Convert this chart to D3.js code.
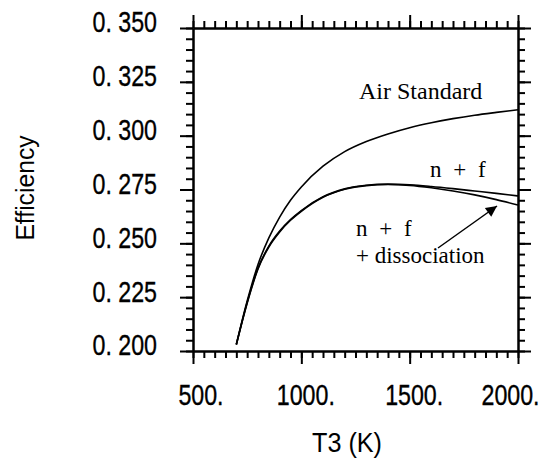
<!DOCTYPE html>
<html><head><meta charset="utf-8">
<script src="https://cdn.jsdelivr.net/npm/d3@7/dist/d3.min.js"></script>
<style>body{margin:0;background:#fff}svg{display:block}</style>
</head><body>
<script>
const temps = [700,750,800,850,900,950,1000,1100,1200,1300,1400,1500,1600,1700,1800,1900,2000];
const airStandard = [0.203,0.2232,0.2402,0.2525,0.2622,0.2700,0.2762,0.2858,0.2926,0.2973,0.3008,0.3037,0.3060,0.3079,0.3095,0.3108,0.3120];
const nf = [0.203,0.2225,0.2385,0.2487,0.2557,0.2610,0.2652,0.2716,0.2753,0.2770,0.2775,0.2772,0.2764,0.2754,0.2743,0.2732,0.2720];
const nfDissoc = [0.203,0.2222,0.2381,0.2483,0.2553,0.2607,0.2649,0.2714,0.2751,0.2768,0.2773,0.2769,0.2758,0.2743,0.2725,0.2703,0.2678];
const xMajor = [500,1000,1500,2000];
const xTickLabels = ["500.","1000.","1500.","2000."];
const yMajor = [0.200,0.225,0.250,0.275,0.300,0.325,0.350];
const yTickLabels = ["0. 200","0. 225","0. 250","0. 275","0. 300","0. 325","0. 350"];
const xTitle = "T3 (K)", yTitle = "Efficiency";

const W=551,H=466;
const svg=d3.select("body").append("svg").attr("width",W).attr("height",H);
const x=d3.scaleLinear().domain([500,2000]).range([193,518]);
const y=d3.scaleLinear().domain([0.2,0.35]).range([351,28]);
const xMinor=d3.range(500,2001,50), yMinor=d3.range(0,31).map(i=>0.2+i*0.005);

function ax(gen,tr,vals,size){
  const g=svg.append("g").attr("transform",tr)
   .call(gen.tickValues(vals).tickSize(size).tickSizeOuter(0).tickFormat(""));
  g.selectAll("path,line").attr("stroke","#000").attr("stroke-width",2);
  return g;
}
ax(d3.axisBottom(x),`translate(0,${y(0.2)})`,xMinor,7);
ax(d3.axisBottom(x),`translate(0,${y(0.2)})`,xMajor,13);
ax(d3.axisTop(x),`translate(0,${y(0.35)})`,xMinor,7);
ax(d3.axisTop(x),`translate(0,${y(0.35)})`,xMajor,13);
ax(d3.axisLeft(y),`translate(${x(500)},0)`,yMinor,7);
ax(d3.axisLeft(y),`translate(${x(500)},0)`,yMajor,13);
ax(d3.axisRight(y),`translate(${x(2000)},0)`,yMinor,7);
ax(d3.axisRight(y),`translate(${x(2000)},0)`,yMajor,13);

const sans="'Liberation Sans',Arial,sans-serif";
const xOff=[8,4.5,4.5,-7.5];
svg.append("g").selectAll("text").data(xMajor).join("text")
  .attr("transform",(d,i)=>`translate(${x(d)+xOff[i]},405) scale(0.8,1)`)
  .attr("text-anchor","middle").attr("font-family",sans).attr("font-size",29)
  .attr("stroke","#000").attr("stroke-width",0.35)
  .text((d,i)=>xTickLabels[i]);
svg.append("g").selectAll("text").data(yMajor).join("text")
  .attr("transform",d=>`translate(157,${y(d)-6}) scale(0.8,1)`).attr("dy","0.36em")
  .attr("text-anchor","end").attr("font-family",sans).attr("font-size",29)
  .attr("stroke","#000").attr("stroke-width",0.35)
  .text((d,i)=>yTickLabels[i]);

svg.append("text").attr("transform","translate(347,452) scale(0.9,1)").attr("text-anchor","middle")
  .attr("font-family",sans).attr("font-size",28).text(xTitle);
svg.append("text").attr("transform",`translate(34,188) rotate(-90) scale(0.95,1)`).attr("text-anchor","middle")
  .attr("font-family",sans).attr("font-size",26).text(yTitle);

const line=d3.line().x((d,i)=>x(temps[i])).y(d=>y(d)).curve(d3.curveMonotoneX);
[airStandard,nf,nfDissoc].forEach(s=>{
  svg.append("path").attr("d",line(s)).attr("fill","none").attr("stroke","#000").attr("stroke-width",1.6);
});

const serif="'Liberation Serif','Times New Roman',serif";
svg.append("text").attr("x",359).attr("y",99).attr("font-family",serif).attr("font-size",24).text("Air Standard");
svg.append("text").attr("x",430).attr("y",177).attr("font-family",serif).attr("font-size",23).attr("word-spacing",6).text("n + f");
svg.append("text").attr("x",356).attr("y",236).attr("font-family",serif).attr("font-size",23).attr("word-spacing",6).text("n + f");
svg.append("text").attr("x",356).attr("y",263).attr("font-family",serif).attr("font-size",23).text("+ dissociation");

svg.append("defs").append("marker").attr("id","ah").attr("viewBox","0 0 10 10").attr("refX",10).attr("refY",5)
  .attr("markerWidth",16).attr("markerHeight",11).attr("markerUnits","userSpaceOnUse").attr("orient","auto")
  .append("path").attr("d","M0,0L10,5L0,10Z").attr("fill","#000");
svg.append("line").attr("x1",438).attr("y1",248).attr("x2",497).attr("y2",206)
  .attr("stroke","#000").attr("stroke-width",1.5).attr("marker-end","url(#ah)");
</script>
</body></html>
